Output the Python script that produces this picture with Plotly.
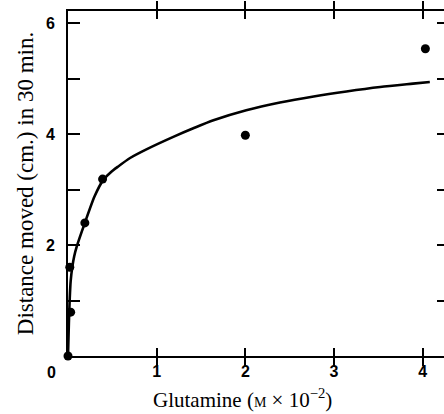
import plotly.graph_objects as go

# Measured points
conc = [0.0, 0.03, 0.02, 0.19, 0.39, 2.0, 4.03]
dist = [0.0, 0.79, 1.60, 2.40, 3.19, 3.98, 5.54]

# Fitted curve
curve_x = [0.0, 0.01, 0.02, 0.03, 0.05, 0.07, 0.10, 0.19, 0.30, 0.40, 0.48, 0.56, 0.70,
           0.89, 1.20, 1.42, 1.64, 2.01, 2.39, 2.77, 3.14, 3.52, 3.89, 4.08]
curve_y = [0.0, 0.6, 1.05, 1.35, 1.62, 1.80, 1.98, 2.40, 2.88, 3.18, 3.31, 3.41, 3.57,
           3.73, 3.96, 4.11, 4.25, 4.43, 4.57, 4.68, 4.77, 4.85, 4.91, 4.94]

x_ticks = [1, 2, 3, 4]
y_ticks = [2, 4, 6]
y_minor = [1, 3, 5]
y_right_ticks = [1, 2, 3, 4, 5, 6]

fig = go.Figure()
fig.add_trace(go.Scatter(x=curve_x, y=curve_y, mode="lines",
                         line=dict(color="black", width=2.6, shape="spline", smoothing=0.7),
                         hoverinfo="skip", showlegend=False))
fig.add_trace(go.Scatter(x=conc, y=dist, mode="markers", yaxis="y2",
                         marker=dict(color="black", size=9),
                         cliponaxis=False, showlegend=False))

tickfont = dict(family="Liberation Sans", size=16, color="black")
fig.update_layout(
    width=444, height=414,
    margin=dict(l=68, r=0, t=11, b=58),
    paper_bgcolor="white", plot_bgcolor="white",
    font=dict(family="Liberation Serif", color="black"),
    xaxis=dict(range=[0, 4.24], tickvals=x_ticks, ticktext=[f"<b>{v}</b>" for v in x_ticks],
               ticks="inside", ticklen=8, tickwidth=2, tickcolor="black",
               showline=True, linewidth=2, linecolor="black", mirror="allticks",
               showgrid=False, zeroline=False, tickfont=tickfont, automargin=False),
    yaxis=dict(range=[0, 6.22], tickvals=y_ticks, ticktext=[f"<b>{v}</b>" for v in y_ticks],
               ticks="inside", ticklen=12, tickwidth=2, tickcolor="black",
               showline=True, linewidth=2, linecolor="black", mirror=False,
               minor=dict(tickvals=y_minor, ticks="inside", ticklen=12, tickwidth=2, tickcolor="black"),
               showgrid=False, zeroline=False, tickfont=tickfont, ticklabelstandoff=8,
               automargin=False,
               title=dict(text="Distance moved (cm.) in 30 min.",
                          font=dict(family="Liberation Serif", size=23), standoff=6)),
    yaxis2=dict(range=[0, 6.22], overlaying="y", side="right", anchor="x",
                tickvals=y_right_ticks, showticklabels=False,
                ticks="inside", ticklen=7, tickwidth=2, tickcolor="black",
                showline=False, showgrid=False, zeroline=False, automargin=False),
)
fig.add_annotation(text="<b>0</b>", x=-0.0426, y=-0.049, xref="paper", yref="paper",
                   xanchor="center", yanchor="middle",
                   showarrow=False, font=tickfont)
fig.add_annotation(text="Glutamine (<span style='font-size:14px'>M</span> × 10<sup>−2</sup>)",
                   x=0.463, y=-0.122, xref="paper", yref="paper", showarrow=False,
                   xanchor="center", yanchor="middle",
                   font=dict(family="Liberation Serif", size=21, color="black"))

fig.write_html("out.html", config={"displayModeBar": False},
               post_script="document.body.style.margin='0';document.body.style.overflow='hidden';")
